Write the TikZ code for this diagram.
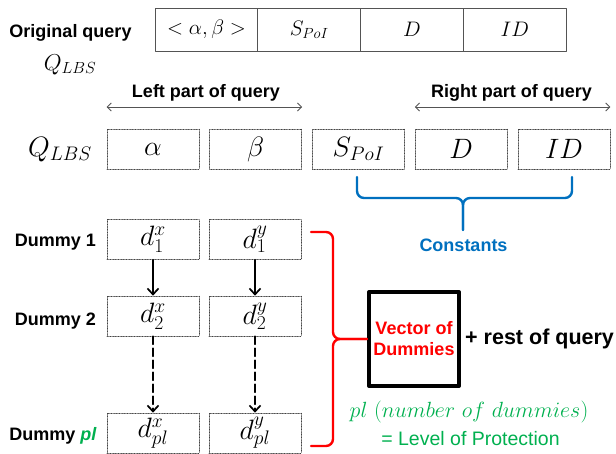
\RequirePackage{fix-cm}
\documentclass[tikz,border=0pt]{standalone}
\usepackage{fontspec}
\setsansfont{Liberation Sans}
\usetikzlibrary{arrows.meta,positioning}
\definecolor{redq}{rgb}{1.,0.,0.}
\definecolor{blueq}{rgb}{0.,0.44,0.75}
\definecolor{greenq}{rgb}{0.,0.69,0.31}
\definecolor{grayq}{rgb}{0.33,0.33,0.33}

\tikzset{
  lbl/.style={font=\sffamily\bfseries\fontsize{18}{21}\selectfont, inner sep=0pt},
  cell/.style={draw=grayq, line width=0.8pt, minimum width=102.75pt, minimum height=43pt,
    inner sep=0pt, outer sep=0pt, font=\fontsize{21}{24}\selectfont},
  dbox/.style={draw=black!75, densely dotted, line width=0.6pt, minimum width=92pt,
    minimum height=40pt, inner sep=0pt, font=\fontsize{28}{32}\selectfont},
  partarr/.style={draw=grayq, line width=0.8pt, {Straight Barb[length=4pt,width=8pt]}-{Straight Barb[length=4pt,width=8pt]}},
  solidarr/.style={line width=1.7pt, -{Straight Barb[length=6pt,width=11pt]}},
  dasharr/.style={solidarr, dash pattern=on 8pt off 4pt},
  bracepath/.style={line width=2.4pt, rounded corners=7pt},
}

\begin{document}
\begin{tikzpicture}[line cap=round,line join=round,x=1pt,y=-1pt]
        \useasboundingbox (0,0) rectangle (616,453);
        % original query
        \node[lbl, anchor=base] (orig) at (70.5,37) {Original query};
        \node[anchor=base, font=\fontsize{23}{26}\selectfont, inner sep=0pt] (qtop) at (70,70) {$Q_{LBS}$};
        \node[cell] (oq1) at (206.5,29.5) {$<\alpha,\beta>$};
        \node[cell, right=0pt of oq1] (oq2) {$S_{PoI}$};
        \node[cell, right=0pt of oq2] (oq3) {$D$};
        \node[cell, right=0pt of oq3] (oq4) {$ID$};
        % split query
        \node[anchor=base, font=\fontsize{28}{32}\selectfont, inner sep=0pt] (qsplit) at (60,156) {$Q_{LBS}$};
        \foreach \nm/\tx [count=\i from 0] in {qa/\alpha, qb/\beta, qs/S_{PoI}, qd/D, qi/ID}
            \node[dbox] (\nm) at (153+\i*102.75,149) {$\tx$};
        \node[lbl, anchor=base] (lpart) at (206,97) {Left part of query};
        \node[lbl, anchor=base] (rpart) at (511.5,97) {Right part of query};
        \coordinate (lpa) at (qa.west |- 0,107);
        \coordinate (lpb) at (qb.east |- 0,107);
        \coordinate (rpa) at (qd.west |- 0,107);
        \coordinate (rpb) at (qi.east |- 0,107);
        \draw[partarr] (lpa) -- (lpb);
        \draw[partarr] (rpa) -- (rpb);
        % constants brace
        \coordinate (ctip) at (463,230);
        \draw[bracepath, blueq] (357,177) -- (357,198) -- (463,198) -- (ctip);
        \draw[bracepath, blueq] (572,177) -- (572,198) -- (463,198) -- (ctip);
        \node[lbl, anchor=base, text=blueq] (const) at (463.5,251) {Constants};
        % dummies
        \foreach \r/\yy in {1/239.5, 2/316, pl/433} {
            \node[dbox] (dx\r) at (153,\yy) {$d_{\r}^{x}$};
            \node[dbox] (dy\r) at (255,\yy) {$d_{\r}^{y}$};
        }
        \node[lbl, anchor=base east] (dum1) at (96,246) {Dummy 1};
        \node[lbl, anchor=base east] (dum2) at (96,325) {Dummy 2};
        \node[lbl, anchor=base east] (dumpl) at (97,440) {Dummy \textcolor{greenq}{\textit{pl}}};
        \draw[solidarr] (dx1) -- (dx2);
        \draw[solidarr] (dy1) -- (dy2);
        \draw[dasharr] (dx2) -- (dxpl);
        \draw[dasharr] (dy2) -- (dypl);
        % vector of dummies
        \node[draw, line width=4pt, minimum width=90pt, minimum height=94pt, inner sep=0pt,
              align=center, text=redq, font=\sffamily\bfseries\fontsize{18}{21}\selectfont]
              (vec) at (414,339) {Vector of\\Dummies};
        \draw[bracepath, redq] (311,232) -- (333,232) -- (333,339) -- (vec.west);
        \draw[bracepath, redq] (311,446) -- (333,446) -- (333,339) -- (vec.west);
        \node[anchor=base west, inner sep=0pt, font=\sffamily\bfseries\fontsize{21.5}{24}\selectfont]
              (rest) at (465,344) {+ rest of query};
        \node[anchor=base, inner sep=0pt, text=greenq, font=\fontsize{22}{25}\selectfont]
              (plnum) at (469,417) {$pl\ (number\ of\ dummies)$};
        \node[anchor=base, inner sep=0pt, text=greenq, font=\sffamily\fontsize{19.5}{22}\selectfont]
              (lop) at (470.5,445) {= Level of Protection};
\end{tikzpicture}
\end{document}
